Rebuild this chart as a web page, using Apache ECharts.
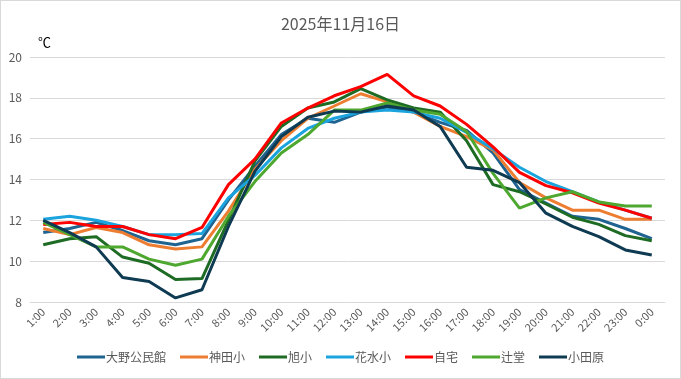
<!DOCTYPE html>
<html><head><meta charset="utf-8">
<script src="https://cdn.jsdelivr.net/npm/echarts@6/dist/echarts.min.js"></script>
<style>html,body{margin:0;padding:0;background:#fff}#c{width:679px;height:377px;border:1px solid #d9d9d9}</style>
</head><body><div id="c"></div>
<script>
const categories = ['1:00','2:00','3:00','4:00','5:00','6:00','7:00','8:00','9:00','10:00','11:00','12:00','13:00','14:00','15:00','16:00','17:00','18:00','19:00','20:00','21:00','22:00','23:00','0:00'];
const seriesNames = ['大野公民館','神田小','旭小','花水小','自宅','辻堂','小田原'];
const oono   = [11.4,11.6,11.9,11.5,11.0,10.8,11.1,13.0,14.65,16.2,17.0,16.8,17.3,17.55,17.3,16.8,16.4,15.3,13.5,12.85,12.2,12.05,11.6,11.1];
const kanda  = [11.6,11.3,11.65,11.4,10.8,10.6,10.7,12.45,14.5,15.9,17.0,17.6,18.2,17.8,17.3,16.6,16.1,15.45,13.85,13.1,12.5,12.5,12.05,12.05];
const asahi  = [10.8,11.1,11.2,10.2,9.9,9.1,9.15,12.0,14.9,16.6,17.5,17.8,18.45,17.9,17.5,17.3,15.9,13.75,13.4,12.8,12.15,11.8,11.25,11.0];
const hanamizu = [12.05,12.2,12.0,11.7,11.3,11.3,11.35,13.1,14.2,15.55,16.5,17.0,17.3,17.4,17.3,17.0,16.3,15.5,14.6,13.9,13.4,12.9,12.5,12.1];
const jitaku = [11.8,11.9,11.7,11.7,11.3,11.1,11.65,13.75,15.0,16.77,17.5,18.1,18.55,19.15,18.1,17.6,16.7,15.6,14.35,13.7,13.35,12.85,12.5,12.1];
const tsujido = [11.9,11.3,10.7,10.7,10.1,9.8,10.1,12.2,13.9,15.3,16.2,17.4,17.4,17.75,17.4,17.2,16.35,14.3,12.6,13.1,13.4,12.9,12.7,12.7];
const odawara = [12.0,11.4,10.7,9.2,9.0,8.2,8.6,11.7,14.4,16.1,17.05,17.35,17.3,17.6,17.4,16.6,14.6,14.45,13.85,12.35,11.7,11.2,10.55,10.3];
const colors = ['#1F6391','#ED7D31','#1E6B24','#1AA3DD','#FF0000','#4EA72E','#0E3A52'];
const yMin = 8, yMax = 20, yStep = 2;

const dataSets = [oono,kanda,asahi,hanamizu,jitaku,tsujido,odawara];
const font = '"Noto Sans CJK JP", sans-serif';
const chart = echarts.init(document.getElementById('c'));
chart.setOption({
  animation:false,
  color: colors,
  title: {text:'2025年11月16日', left:'center', top:10, textStyle:{fontFamily:font, fontSize:16, fontWeight:'normal', color:'#595959'}},
  grid: {left:29, right:15, top:56, bottom:76},
  legend: {bottom:10, left:'center', itemWidth:28, itemHeight:3, itemGap:14, icon:'rect',
    textStyle:{fontFamily:font, fontSize:12, color:'#595959', padding:[0,0,0,-4]}, data: seriesNames},
  xAxis: {type:'category', data:categories, boundaryGap:true,
    axisLine:{lineStyle:{color:'#d9d9d9'}}, axisTick:{show:false},
    axisLabel:{rotate:45, fontFamily:font, fontSize:11, color:'#595959', interval:0, margin:8}},
  yAxis: {type:'value', min:yMin, max:yMax, interval:yStep, name:'℃',
    nameLocation:'end', nameGap:8, nameTextStyle:{fontFamily:font, fontSize:13, color:'#000', align:'left', padding:[0,0,0,8]},
    axisLine:{show:false}, axisTick:{show:false},
    splitLine:{lineStyle:{color:'#d9d9d9', width:1}},
    axisLabel:{fontFamily:font, fontSize:12, color:'#595959', margin:8}},
  series: seriesNames.map((n,i)=>({name:n, type:'line', data:dataSets[i], showSymbol:false, symbol:'none',
    lineStyle:{width:3, color:colors[i]}, itemStyle:{color:colors[i]}}))
});
</script></body></html>
